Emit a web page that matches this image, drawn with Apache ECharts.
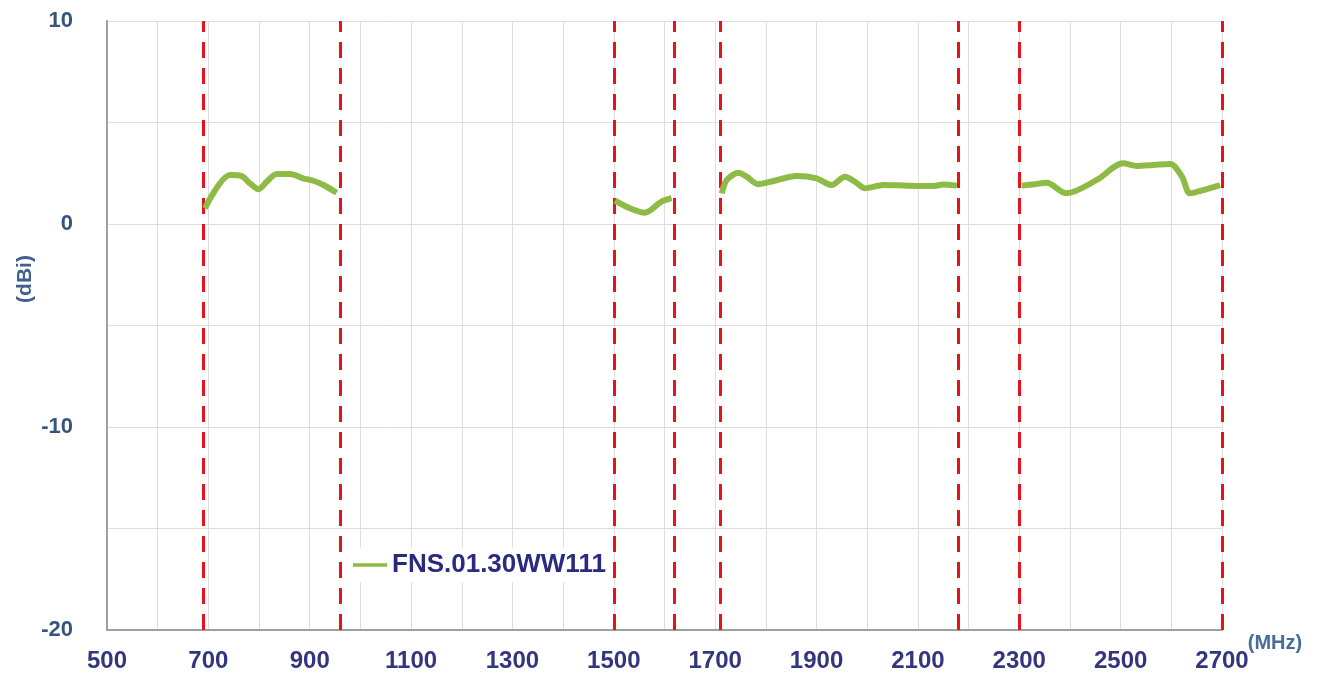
<!DOCTYPE html>
<html>
<head>
<meta charset="utf-8" />
<title>FNS.01.30WW111 gain</title>
<script src="https://cdn.jsdelivr.net/npm/echarts@6/dist/echarts.min.js"></script>
<style>
  html, body { margin: 0; padding: 0; background: #fff; }
  #main { width: 1324px; height: 677px; }
</style>
</head>
<body>
<div id="main"></div>
<script type="text/javascript">
// band edges (MHz), drawn as red dashed lines
var bandEdges = [690, 960, 1500, 1620, 1710, 2180, 2300, 2700];

// measured gain, one pair of arrays per band
var band1Freq = [693, 743, 766, 782, 799, 815, 835, 861, 887, 907, 927, 953];
var band1Gain = [0.77, 2.41, 2.36, 2.0, 1.71, 2.08, 2.46, 2.46, 2.25, 2.13, 1.92, 1.54];

var band2Freq = [1502, 1561, 1594, 1614];
var band2Gain = [1.15, 0.56, 1.1, 1.27];

var band3Freq = [1713, 1723, 1746, 1762, 1785, 1815, 1861, 1900, 1930, 1956, 1976, 1996, 2032, 2078, 2131, 2150, 2177];
var band3Gain = [1.51, 2.17, 2.53, 2.33, 1.96, 2.12, 2.36, 2.25, 1.92, 2.33, 2.08, 1.76, 1.92, 1.89, 1.87, 1.95, 1.89];

var band4Freq = [2305, 2331, 2354, 2393, 2453, 2505, 2532, 2565, 2598, 2621, 2637, 2663, 2696];
var band4Gain = [1.89, 1.96, 2.03, 1.51, 2.17, 2.99, 2.86, 2.91, 2.96, 2.33, 1.51, 1.67, 1.92];

var seriesName = 'FNS.01.30WW111';

// join bands with a null so the line breaks between them
var bands = [[band1Freq, band1Gain], [band2Freq, band2Gain], [band3Freq, band3Gain], [band4Freq, band4Gain]];
var lineData = [];
for (var b = 0; b < bands.length; b++) {
	if (b > 0) lineData.push([bands[b][0][0] - 1, null]);
	for (var i = 0; i < bands[b][0].length; i++) {
		lineData.push([bands[b][0][i], bands[b][1][i]]);
	}
}

var edgeLines = [];
for (var k = 0; k < bandEdges.length; k++) {
	edgeLines.push({ xAxis: bandEdges[k] });
}

var myChart = echarts.init(document.getElementById('main'));
var option = {
	animation: false,
	backgroundColor: '#ffffff',
	grid: { left: 107, right: 102, top: 21, bottom: 47, outerBoundsMode: 'none', containLabel: false },
	graphic: [
		{
			type: 'text',
			x: 25,
			y: 279,
			rotation: Math.PI / 2,
			style: { text: '(dBi)', fill: '#3f6090', font: 'bold 21px "Liberation Sans"', align: 'center', verticalAlign: 'middle' }
		},
		{
			type: 'text',
			x: 1275,
			y: 643,
			style: { text: '(MHz)', fill: '#4a6c9c', font: 'bold 20px "Liberation Sans"', align: 'center', verticalAlign: 'middle' }
		}
	],
	legend: {
		data: [{ name: seriesName, icon: 'path://M0,0 L10,0 L10,1 L0,1 Z' }],
		left: 347,
		top: 548,
		padding: [4, 6, 4, 6],
		backgroundColor: '#ffffff',
		itemWidth: 34,
		itemHeight: 5,
		itemGap: 2,
		textStyle: { color: '#2a2a80', fontSize: 26, fontWeight: 'bold', fontFamily: 'Liberation Sans' }
	},
	xAxis: {
		type: 'value',
		min: 500,
		max: 2700,
		interval: 200,
		axisLine: { onZero: false, lineStyle: { color: '#a0a0a0', width: 2 } },
		axisTick: { show: false },
		axisLabel: {
			margin: 19, color: '#33367f', fontSize: 24, fontWeight: 'bold', fontFamily: 'Liberation Sans',
			formatter: function (v) { return String(v); }
		},
		splitLine: { show: true, lineStyle: { color: '#dedede', width: 1 } },
		minorTick: { show: false, splitNumber: 2 },
		minorSplitLine: { show: true, lineStyle: { color: '#dedede', width: 1 } }
	},
	yAxis: {
		type: 'value',
		min: -20,
		max: 10,
		interval: 10,
		axisLine: { show: true, lineStyle: { color: '#a0a0a0', width: 2 } },
		axisTick: { show: false },
		axisLabel: { margin: 34, color: '#36557e', fontSize: 22, fontWeight: 'bold', fontFamily: 'Liberation Sans' },
		splitLine: { show: true, lineStyle: { color: '#dedede', width: 1 } },
		minorTick: { show: false, splitNumber: 2 },
		minorSplitLine: { show: true, lineStyle: { color: '#dedede', width: 1 } }
	},
	series: [
		{
			name: 'edges',
			type: 'line',
			data: [],
			silent: true,
			markLine: {
				silent: true,
				symbol: 'none',
				label: { show: false },
				lineStyle: { color: '#e5141c', width: 3, type: [16, 10] },
				data: edgeLines
			}
		},
		{
			name: seriesName,
			type: 'line',
			data: lineData,
			connectNulls: false,
			smooth: 0.3,
			symbol: 'none',
			z: 5,
			lineStyle: { color: '#8dbb45', width: 6 },
			itemStyle: { color: '#8dbb45' }
		}
	]
};
myChart.setOption(option);
</script>
</body>
</html>
